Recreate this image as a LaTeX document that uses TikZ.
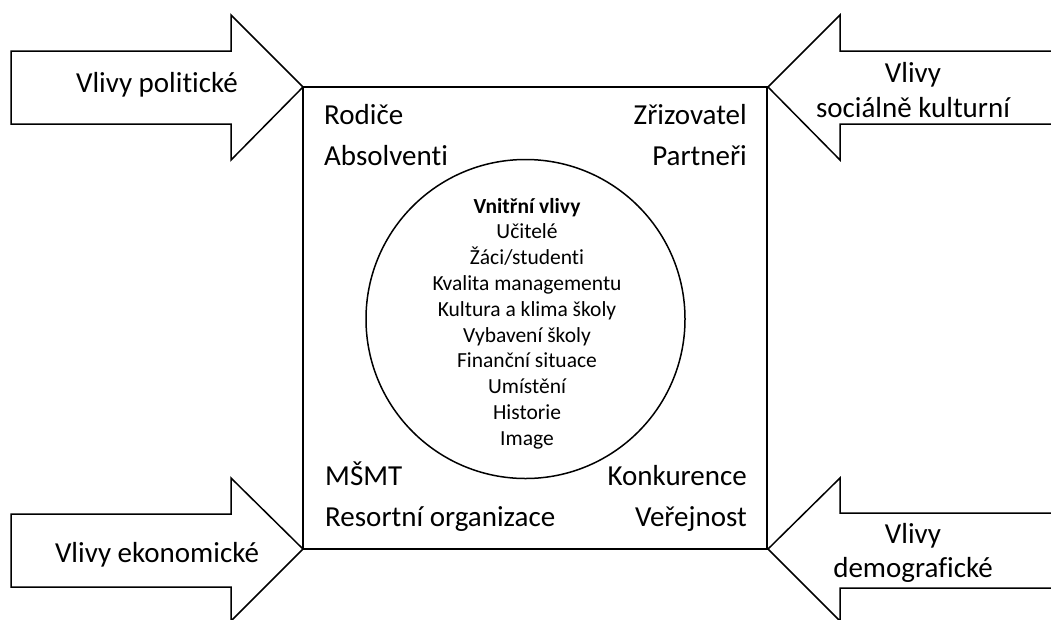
\documentclass[tikz,border=0pt]{standalone}
\usepackage{fontspec}
\setmainfont{Carlito}[Ligatures=NoCommon]
\begin{document}
\begin{tikzpicture}[x=1pt,y=-1pt,
  shape line/.style={draw=black,line width=1.5pt,line join=miter},
  big/.style={font=\fontsize{29}{35}\selectfont,inner sep=0pt},
  small/.style={font=\fontsize{21.5}{25}\selectfont,inner sep=0pt,anchor=base}]
\useasboundingbox (0,0) rectangle (1051,619);
\begin{scope}
\clip (0,0) rectangle (1051,619);
% arrows
\draw[shape line,fill=white] (11,51) -- (231,51) -- (231,15) -- (303,87) -- (231,160) -- (231,124) -- (11,124) -- cycle;
\draw[shape line,fill=white] (11,514) -- (231,514) -- (231,478) -- (303,549) -- (231,621) -- (231,587) -- (11,587) -- cycle;
\draw[shape line,fill=white] (1060,51) -- (840,51) -- (840,15) -- (768,87) -- (840,160) -- (840,124) -- (1060,124);
\draw[shape line,fill=white] (1060,513) -- (840,513) -- (840,478) -- (768,549) -- (840,621) -- (840,588) -- (1060,588);
\end{scope}
% square and circle
\draw[shape line] (303,87) rectangle (767,549);
\draw[shape line] (525.5,319) circle (159.5);
% arrow labels
\node[big,anchor=base] (pol) at (157,92) {Vlivy politické};
\node[big,anchor=base] (eko) at (157,562) {Vlivy ekonomické};
\node[big,anchor=base] (soc1) at (913,82) {Vlivy};
\node[big,anchor=base] (soc2) at (913,117) {sociálně kulturní};
\node[big,anchor=base] (dem1) at (913,543) {Vlivy};
\node[big,anchor=base] (dem2) at (913,577) {demografické};
% corner labels
\node[big,anchor=base west] (rod) at (324,124) {Rodiče};
\node[big,anchor=base west] (abs) at (324,165) {Absolventi};
\node[big,anchor=base east] (zri) at (747,124) {Zřizovatel};
\node[big,anchor=base east] (par) at (747,165) {Partneři};
\node[big,anchor=base west] (msmt) at (325,485) {MŠMT};
\node[big,anchor=base west] (res) at (325,526) {Resortní organizace};
\node[big,anchor=base east] (kon) at (747,485) {Konkurence};
\node[big,anchor=base east] (ver) at (747,526) {Veřejnost};
% inner list
\node[small,font=\fontsize{21.5}{25}\selectfont\bfseries] (i0) at (527,213) {Vnitřní vlivy};
\foreach \t [count=\i] in {Učitelé,Žáci/studenti,Kvalita managementu,Kultura a klima školy,Vybavení školy,Finanční situace,Umístění,Historie,Image}
  \node[small] (i\i) at (527,213+25.8*\i) {\t};
\end{tikzpicture}
\end{document}
